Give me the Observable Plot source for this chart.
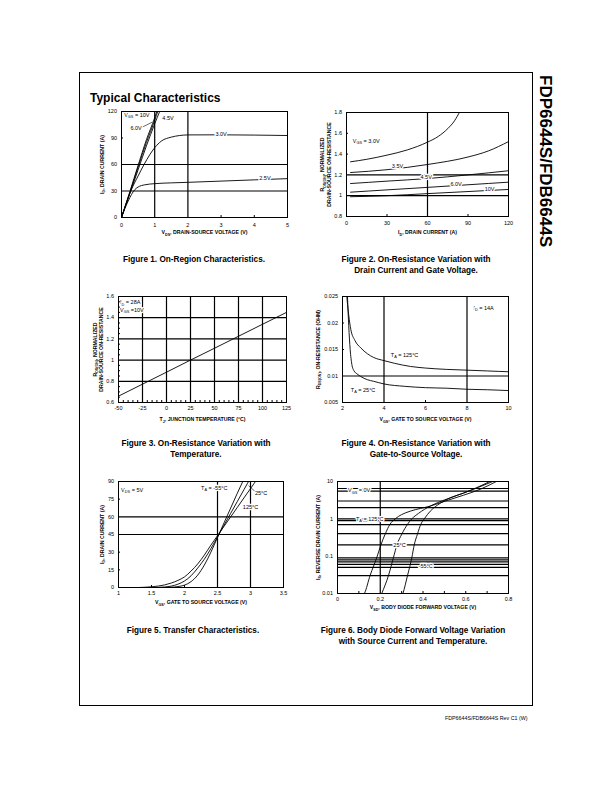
<!DOCTYPE html>
<html><head><meta charset="utf-8">
<script src="https://cdn.jsdelivr.net/npm/d3@7"></script>
<script src="https://cdn.jsdelivr.net/npm/@observablehq/plot@0.6"></script>
<style>
body{margin:0;background:#fff;}
#page{position:relative;width:612px;height:792px;overflow:hidden;font-family:Arial,"Liberation Sans",Helvetica,sans-serif;color:#000;}
.cap{position:absolute;font-weight:bold;font-size:8.2px;line-height:10.5px;text-align:center;width:240px;white-space:nowrap;}
</style></head><body><div id="page">
<div style="position:absolute;left:79px;top:72px;width:454px;height:634px;border:1px solid #000;box-sizing:border-box;"></div>
<div style="position:absolute;left:90px;top:92px;font-size:12px;line-height:12px;font-weight:bold;">Typical Characteristics</div>
<svg style="position:absolute;left:530px;top:70px;" width="30" height="190"><text transform="translate(10,5) rotate(90)" font-family="Arial, 'Liberation Sans', sans-serif" font-weight="bold" font-size="16" textLength="172" lengthAdjust="spacingAndGlyphs">FDP6644S/FDB6644S</text></svg>
<div class="cap" style="left:74px;top:255px;">Figure 1. On-Region Characteristics.</div>
<div class="cap" style="left:296px;top:255px;">Figure 2. On-Resistance Variation with<br>Drain Current and Gate Voltage.</div>
<div class="cap" style="left:76px;top:439px;">Figure 3. On-Resistance Variation with<br>Temperature.</div>
<div class="cap" style="left:296px;top:439px;">Figure 4. On-Resistance Variation with<br>Gate-to-Source Voltage.</div>
<div class="cap" style="left:73px;top:626px;">Figure 5. Transfer Characteristics.</div>
<div class="cap" style="left:293px;top:626px;">Figure 6. Body Diode Forward Voltage Variation<br>with Source Current and Temperature.</div>
<div style="position:absolute;left:445px;top:715px;font-size:5.3px;line-height:6px;white-space:nowrap;">FDP6644S/FDB6644S Rev C1 (W)</div>
</div>
<script>
// ---------- Figure 1: On-Region Characteristics ----------
const fig1XTicks = [0, 1, 2, 3, 4, 5];
const fig1YTicks = [0, 30, 60, 90, 120];
const fig1GridX = [1, 2];
const fig1GridY = [30, 60];
const fig1MinorX = [3, 4];
const fig1MinorY = [90];
const fig1_10V = [[0,0],[0.25,29],[0.5,59],[0.75,88],[1.0,113],[1.07,121]];
const fig1_6V = [[0,0],[0.25,28],[0.5,57],[0.75,85],[1.0,110],[1.1,121]];
const fig1_4p5V = [[0,0],[0.25,27],[0.5,54],[0.75,81],[1.0,106],[1.16,121]];
const fig1_3V = [[0,0],[0.15,17],[0.28,30],[0.5,47],[0.68,60],[0.85,71],[1.0,79],[1.2,86.5],[1.5,91],[1.75,92.8],[2,93.5],[3,93.6],[4,93.3],[5,92.8]];
const fig1_2p5V = [[0,0],[0.1,10],[0.2,18.5],[0.3,26],[0.4,31.5],[0.5,34.5],[0.7,37],[1.0,38.3],[1.5,39.2],[2,39.8],[3,41.2],[4,42.6],[5,44]];
const fig1Labels = [
  {x:0.46, y:115.9, text:"V_{GS} = 10V"},
  {x:0.44, y:101, text:"6.0V"},
  {x:1.4, y:112.1, text:"4.5V"},
  {x:3.0, y:93.7, text:"3.0V"},
  {x:4.32, y:44.2, text:"2.5V"}
];
const fig1Leaders = [{x1:0.63, y1:102.4, x2:0.93, y2:108}];

// ---------- Figure 2: On-Resistance vs Drain Current ----------
const fig2XTicks = [0, 30, 60, 90, 120];
const fig2YTicks = [0.8, 1, 1.2, 1.4, 1.6, 1.8];
const fig2GridX = [60];
const fig2GridY = [1, 1.2];
const fig2MinorX = [30, 90];
const fig2MinorY = [1.4, 1.6];
const fig2_3V = [[3,1.326],[15,1.35],[30,1.39],[45,1.44],[60,1.515],[68,1.57],[75,1.645],[80,1.72],[84,1.81]];
const fig2_3p5V = [[3,1.223],[30,1.25],[60,1.3],[90,1.372],[105,1.43],[120,1.52]];
const fig2_4p5V = [[3,1.117],[30,1.14],[60,1.165],[90,1.2],[120,1.24]];
const fig2_6V = [[3,1.034],[30,1.056],[60,1.08],[90,1.105],[120,1.13]];
const fig2_10V = [[3,0.99],[30,1.0],[60,1.02],[90,1.04],[120,1.06]];
const fig2Labels = [
  {x:14.6, y:1.524, text:"V_{GS} = 3.0V"},
  {x:37.8, y:1.284, text:"3.5V"},
  {x:59, y:1.175, text:"4.5V"},
  {x:81.2, y:1.108, text:"6.0V"},
  {x:106, y:1.06, text:"10V"}
];

// ---------- Figure 3: On-Resistance vs Temperature ----------
const fig3XTicks = [-50, -25, 0, 25, 50, 75, 100, 125];
const fig3YTicks = [0.6, 0.8, 1, 1.2, 1.4, 1.6];
const fig3GridX = [-25, 0, 25, 50, 75, 100];
const fig3GridY = [0.8, 1, 1.2, 1.4];
const fig3MinorX = [-45,-40,-35,-30,-20,-15,-10,-5,5,10,15,20,30,35,40,45,55,60,65,70,80,85,90,95,105,110,115,120];
const fig3MinorY = [0.65,0.7,0.75,0.85,0.9,0.95,1.05,1.1,1.15,1.25,1.3,1.35,1.45,1.5,1.55];
const fig3Temp = [-50, -25, 0, 25, 50, 75, 100, 125];
const fig3Rds = [0.66, 0.773, 0.886, 1.0, 1.112, 1.225, 1.338, 1.45];
const fig3Labels = [
  {x:-37.8, y:1.543, text:"I_{D} = 28A"},
  {x:-36.1, y:1.474, text:"V_{GS} =10V"}
];

// ---------- Figure 4: On-Resistance vs Gate Voltage ----------
const fig4XTicks = [2, 4, 6, 8, 10];
const fig4YTicks = [0.005, 0.01, 0.015, 0.02, 0.025];
const fig4GridX = [4, 8];
const fig4GridY = [0.01];
const fig4MinorX = [6];
const fig4MinorY = [0.015, 0.02];
const fig4_125C = [[2.16,0.028],[2.21,0.025],[2.3,0.0215],[2.4,0.0188],[2.6,0.0167],[2.88,0.0153],[3.2,0.0142],[3.5,0.0135],[4,0.0129],[4.5,0.0124],[5.28,0.0118],[6,0.0115],[7,0.01125],[8,0.0111],[9,0.01095],[10,0.0108]];
const fig4_25C = [[2.21,0.028],[2.24,0.025],[2.3,0.0195],[2.37,0.015],[2.45,0.0122],[2.55,0.011],[2.7,0.0104],[2.88,0.0099],[3.2,0.0093],[3.5,0.009],[4,0.0085],[5,0.00805],[6,0.0078],[7,0.0077],[8,0.0075],[9,0.0074],[10,0.00725]];
const fig4Labels = [
  {x:8.8, y:0.0228, text:"I_{D} = 14A"},
  {x:4.99, y:0.0139, text:"T_{A} = 125°C"},
  {x:2.99, y:0.00731, text:"T_{A} = 25°C"}
];

// ---------- Figure 5: Transfer Characteristics ----------
const fig5XTicks = [1, 1.5, 2, 2.5, 3, 3.5];
const fig5YTicks = [0, 15, 30, 45, 60, 75, 90];
const fig5GridX = [2.5, 3];
const fig5GridY = [45, 60];
const fig5MinorX = [1.5, 2];
const fig5MinorY = [15, 30, 75];
const fig5_m55C = [[1,0],[1.6,0],[1.7,0.05],[1.8,0.25],[1.9,0.8],[2.0,2],[2.1,5],[2.2,10.5],[2.3,19],[2.4,30],[2.5,42.5],[2.6,55],[2.7,67.5],[2.8,80],[2.9,92]];
const fig5_25C = [[1,0],[1.5,0],[1.6,0.1],[1.7,0.4],[1.8,1.2],[1.9,2.8],[2.0,5.5],[2.1,10],[2.2,16.5],[2.3,24],[2.4,33],[2.5,43],[2.6,53],[2.7,63],[2.8,73],[2.9,83],[3.0,93]];
const fig5_125C = [[1,0],[1.3,0],[1.4,0.2],[1.5,0.6],[1.6,1.2],[1.7,2.2],[1.8,3.8],[1.9,6],[2.0,9],[2.1,14],[2.2,20],[2.3,27.5],[2.4,36],[2.5,44],[2.6,52],[2.7,60],[2.8,68],[2.9,76],[3.0,84],[3.1,92]];
const fig5Labels = [
  {x:1.206, y:82.9, text:"V_{DS} = 5V"},
  {x:2.45, y:84.7, text:"T_{A} = -55°C"},
  {x:3.16, y:80.1, text:"25°C"},
  {x:3.0, y:68, text:"125°C"}
];
const fig5Leaders = [{x1:2.97, y1:86.5, x2:3.08, y2:81}];

// ---------- Figure 6: Body Diode Forward Voltage ----------
const fig6XTicks = [0, 0.2, 0.4, 0.6, 0.8];
const fig6YTicks = [0.01, 0.1, 1, 10];
const fig6GridX = [0.2];
const fig6GridY = [6.5, 5.5, 3, 2, 1, 0.9, 0.7, 0.4, 0.2, 0.09, 0.08, 0.07, 0.06, 0.05, 0.03];
const fig6MinorX = [0.1, 0.3, 0.4, 0.5, 0.6, 0.7];
const fig6_125C = [[0.115,0.008],[0.126,0.01],[0.153,0.031],[0.184,0.093],[0.203,0.2],[0.223,0.39],[0.246,0.72],[0.27,1.0],[0.3,1.3],[0.34,1.6],[0.434,2.2],[0.52,3.2],[0.59,4.3],[0.668,6.2],[0.75,10.5]];
const fig6_25C = [[0.2,0.008],[0.207,0.01],[0.239,0.031],[0.262,0.093],[0.278,0.2],[0.301,0.39],[0.328,0.72],[0.348,1.0],[0.379,1.4],[0.434,2.2],[0.5,3.2],[0.59,4.9],[0.66,7],[0.735,10.5]];
const fig6_m55C = [[0.3,0.008],[0.306,0.01],[0.328,0.031],[0.348,0.093],[0.359,0.2],[0.374,0.39],[0.39,0.72],[0.406,1.0],[0.434,1.6],[0.48,2.6],[0.53,3.7],[0.59,4.9],[0.65,6.8],[0.72,10.5]];
const fig6Labels = [
  {x:0.101, y:5.75, text:"V_{GS} = 0V"},
  {x:0.151, y:1.0, text:"T_{A} = 125°C"},
  {x:0.29, y:0.2, text:"25°C"},
  {x:0.413, y:0.055, text:"-55°C"}
];

// ---------- helpers ----------
const FONT = 'Arial, "Liberation Sans", Helvetica, sans-serif';
const SUB = 1.4;
const page = document.getElementById("page");
const fmt = d => String(d);

function subify(svg) {
  const els = [...svg.querySelectorAll("text, tspan")].filter(el => el.children.length === 0 && el.textContent.includes("_{"));
  for (const el of els) {
    const s = el.textContent; el.textContent = "";
    const re = /_\{([^}]*)\}/g; let last = 0, m, pend = 0;
    const add = (str, sub) => {
      const t = document.createElementNS("http://www.w3.org/2000/svg", "tspan");
      t.textContent = str;
      if (sub) { t.setAttribute("font-size", "70%"); t.setAttribute("dy", SUB); pend = -SUB; }
      else if (pend) { t.setAttribute("dy", pend); pend = 0; }
      el.appendChild(t);
    };
    while ((m = re.exec(s))) { if (m.index > last) add(s.slice(last, m.index)); add(m[1], true); last = re.lastIndex; }
    add(s.slice(last) || "\u200b");
  }
}

const curve = data => Plot.line(data, {x: d => d[0], y: d => d[1], curve: "monotone-x", stroke: "black", strokeWidth: 0.9, clip: true});
const labels = arr => Plot.text(arr, {x: "x", y: "y", text: "text", fill: "black", stroke: "white", strokeWidth: 2.5, paintOrder: "stroke", fontSize: 5.5});
const grid = (gx, gy) => [Plot.ruleX(gx, {stroke: "black", strokeWidth: 1.2}), Plot.ruleY(gy, {stroke: "black", strokeWidth: 1.2})];
const axes = (xt, yt, xpad = 4) => [
  Plot.axisX(xt, {anchor: "bottom", tickSize: 0, tickPadding: xpad, tickFormat: fmt, label: null, fontSize: 5.5}),
  Plot.axisY(yt, {anchor: "left", tickSize: 0, tickPadding: 4.5, tickFormat: fmt, label: null, fontSize: 5.5})
];
const minor = (mx, my) => [
  Plot.axisX(mx, {anchor: "bottom", tickSize: -2, tickFormat: () => "", label: null}),
  Plot.axisY(my, {anchor: "left", tickSize: -2, tickFormat: () => "", label: null})
];
const xLabel = (t, dy) => Plot.text([t], {text: d => d, frameAnchor: "bottom", dy, lineAnchor: "middle", textAnchor: "middle", fontWeight: "bold", fontSize: 5.2});
const yLabel = (t, dx) => Plot.text([t], {text: d => d, frameAnchor: "left", rotate: -90, dx, lineAnchor: "middle", textAnchor: "middle", fontWeight: "bold", fontSize: 5.2, lineHeight: 1.2});

function addChart({frame: [x0, y0, x1, y1], x, y, marks, ml = 34, mr = 8, mt = 6, mb = 24}) {
  const svg = Plot.plot({
    width: x1 - x0 + ml + mr, height: y1 - y0 + mt + mb,
    marginLeft: ml, marginRight: mr, marginTop: mt, marginBottom: mb,
    x, y,
    style: {fontFamily: FONT, fontSize: "5.5px", background: "transparent", overflow: "visible", color: "black"},
    marks
  });
  Object.assign(svg.style, {position: "absolute", left: (x0 - ml) + "px", top: (y0 - mt) + "px", maxWidth: "none"});
  page.appendChild(svg);
  subify(svg);
}

// Figure 1
addChart({
  frame: [121, 111, 287, 217],
  x: {domain: [0, 5]}, y: {domain: [0, 120]},
  marks: [
    ...grid(fig1GridX, fig1GridY),
    curve(fig1_10V), curve(fig1_6V), curve(fig1_4p5V), curve(fig1_3V), curve(fig1_2p5V),
    Plot.link(fig1Leaders, {x1: "x1", y1: "y1", x2: "x2", y2: "y2", stroke: "black", strokeWidth: 0.6}),
    labels(fig1Labels),
    Plot.frame({stroke: "black", strokeWidth: 1}),
    ...minor(fig1MinorX, fig1MinorY),
    ...axes(fig1XTicks, fig1YTicks, 5.5),
    xLabel("V_{DS}, DRAIN-SOURCE VOLTAGE (V)", 15),
    yLabel("I_{D}, DRAIN CURRENT (A)", -20)
  ]
});

// Figure 2
addChart({
  frame: [346, 112, 508, 216],
  x: {domain: [0, 120]}, y: {domain: [0.8, 1.8]},
  marks: [
    ...grid(fig2GridX, fig2GridY),
    curve(fig2_3V), curve(fig2_3p5V), curve(fig2_4p5V), curve(fig2_6V), curve(fig2_10V),
    labels(fig2Labels),
    Plot.frame({stroke: "black", strokeWidth: 1}),
    ...minor(fig2MinorX, fig2MinorY),
    ...axes(fig2XTicks, fig2YTicks, 4.5),
    xLabel("I_{D}, DRAIN CURRENT (A)", 16),
    yLabel("R_{DS(ON)}, NORMALIZED\nDRAIN-SOURCE ON-RESISTANCE", -21)
  ]
});

// Figure 3
addChart({
  frame: [118, 296, 286, 402],
  x: {domain: [-50, 125]}, y: {domain: [0.6, 1.6]},
  marks: [
    ...grid(fig3GridX, fig3GridY),
    Plot.line(fig3Temp, {x: d => d, y: (d, i) => fig3Rds[i], stroke: "black", strokeWidth: 0.9}),
    labels(fig3Labels),
    Plot.frame({stroke: "black", strokeWidth: 1}),
    ...minor(fig3MinorX, fig3MinorY),
    ...axes(fig3XTicks, fig3YTicks, 4),
    xLabel("T_{J}, JUNCTION TEMPERATURE (°C)", 17),
    yLabel("R_{DS(ON)}, NORMALIZED\nDRAIN-SOURCE ON-RESISTANCE", -20.5)
  ]
});

// Figure 4
addChart({
  frame: [342, 296, 508, 402],
  x: {domain: [2, 10]}, y: {domain: [0.005, 0.025]},
  marks: [
    ...grid(fig4GridX, fig4GridY),
    curve(fig4_125C), curve(fig4_25C),
    labels(fig4Labels),
    Plot.frame({stroke: "black", strokeWidth: 1}),
    ...minor(fig4MinorX, fig4MinorY),
    ...axes(fig4XTicks, fig4YTicks, 4),
    xLabel("V_{GS}, GATE TO SOURCE VOLTAGE (V)", 17),
    yLabel("R_{DS(ON)}, ON-RESISTANCE (OHM)", -25)
  ]
});

// Figure 5
addChart({
  frame: [118, 481, 283, 587],
  x: {domain: [1, 3.5]}, y: {domain: [0, 90]},
  marks: [
    ...grid(fig5GridX, fig5GridY),
    curve(fig5_m55C), curve(fig5_25C), curve(fig5_125C),
    Plot.link(fig5Leaders, {x1: "x1", y1: "y1", x2: "x2", y2: "y2", stroke: "black", strokeWidth: 0.6}),
    labels(fig5Labels),
    Plot.frame({stroke: "black", strokeWidth: 1}),
    ...minor(fig5MinorX, fig5MinorY),
    ...axes(fig5XTicks, fig5YTicks, 4),
    xLabel("V_{GS}, GATE TO SOURCE VOLTAGE (V)", 15),
    yLabel("I_{D}, DRAIN CURRENT (A)", -17)
  ]
});

// Figure 6
addChart({
  frame: [337, 481, 508, 593],
  x: {domain: [0, 0.8]}, y: {type: "log", domain: [0.01, 10]},
  marks: [
    ...grid(fig6GridX, fig6GridY),
    curve(fig6_125C), curve(fig6_25C), curve(fig6_m55C),
    labels(fig6Labels),
    Plot.frame({stroke: "black", strokeWidth: 1}),
    Plot.axisX(fig6MinorX, {anchor: "bottom", tickSize: -2, tickFormat: () => "", label: null}),
    ...axes(fig6XTicks, fig6YTicks, 3.5),
    xLabel("V_{SD}, BODY DIODE FORWARD VOLTAGE (V)", 14),
    yLabel("I_{S}, REVERSE DRAIN CURRENT (A)", -20)
  ]
});
</script>
</body></html>
